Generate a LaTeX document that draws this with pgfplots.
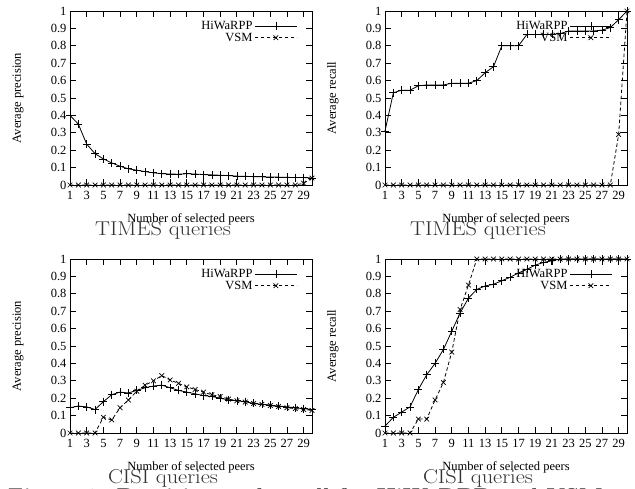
\documentclass[border=0pt]{standalone}
\usepackage{pgfplots}
\pgfplotsset{compat=1.18}
\usepackage{fontspec}
\newfontfamily\tms{Liberation Serif}

% gnuplot-like panel
\pgfplotsset{
  panel/.style={
    scale only axis, width=242pt, height=174pt,
    xmin=1, xmax=30, ymin=0, ymax=1,
    xtick={1,3,...,29},
    ytick={0,0.1,0.2,0.3,0.4,0.5,0.6,0.7,0.8,0.9,1},
    tick align=inside, major tick length=6pt,
    axis line style={line width=0.9pt}, tick style={line width=0.8pt, black},
    /pgf/number format/assume math mode=true,
    tick label style={font=\fontsize{12.5}{13}\tms},
    xticklabel style={yshift=-3pt},
    label style={font=\fontsize{12.5}{13}\tms},
    xlabel={Number of selected peers},
    xlabel style={at={(axis description cs:0.5,-0.2)}, anchor=center},
    ylabel style={at={(axis description cs:-0.215,0.5)}, anchor=center},
    clip=false,
    legend style={draw=none, fill=none, inner sep=0pt, font=\fontsize{12.5}{13}\tms,
      at={(rel axis cs:0.94,0.955)}, anchor=north east, row sep=-2pt},
    legend cell align=right, legend plot pos=right,
    legend image code/.code={\draw[mark repeat=2,mark phase=2,##1] plot coordinates {(0pt,0pt) (21pt,0pt) (42pt,0pt)};},
  },
  hw/.style={black, line width=0.8pt, mark=+, mark size=4pt, mark options={solid, line width=0.7pt}},
  vs/.style={black, line width=0.8pt, dash pattern=on 3.5pt off 2.5pt, mark=x, mark size=3.3pt, mark options={solid, line width=0.7pt}},
}

\pgfplotstableread{
x hw vs
1 0.40 0
2 0.35 0
3 0.235 0
4 0.18 0
5 0.15 0
6 0.127 0
7 0.108 0
8 0.093 0
9 0.085 0
10 0.077 0
11 0.070 0
12 0.065 0
13 0.063 0
14 0.062 0
15 0.065 0
16 0.063 0
17 0.060 0
18 0.058 0
19 0.056 0
20 0.054 0
21 0.051 0
22 0.050 0
23 0.048 0
24 0.047 0
25 0.046 0
26 0.045 0
27 0.044 0
28 0.043 0
29 0.043 0.01
30 0.040 0.04
}\timesprec

\pgfplotstableread{
x hw vs
1 0.31 0
2 0.53 0
3 0.545 0
4 0.545 0
5 0.57 0
6 0.575 0
7 0.575 0
8 0.575 0
9 0.585 0
10 0.585 0
11 0.585 0
12 0.60 0
13 0.645 0
14 0.68 0
15 0.80 0
16 0.80 0
17 0.80 0
18 0.865 0
19 0.865 0
20 0.865 0
21 0.865 0
22 0.87 0
23 0.885 0
24 0.885 0
25 0.885 0
26 0.885 0
27 0.89 0
28 0.905 0
29 0.95 0.29
30 1.0 1.0
}\timesrec

\pgfplotstableread{
x hw vs
1 0.145 0
2 0.155 0
3 0.15 0
4 0.135 0
5 0.18 0.09
6 0.22 0.075
7 0.235 0.145
8 0.23 0.19
9 0.245 0.24
10 0.26 0.275
11 0.27 0.30
12 0.275 0.33
13 0.26 0.305
14 0.245 0.285
15 0.235 0.265
16 0.225 0.25
17 0.215 0.235
18 0.21 0.22
19 0.20 0.21
20 0.19 0.195
21 0.185 0.185
22 0.18 0.178
23 0.17 0.17
24 0.165 0.165
25 0.16 0.158
26 0.155 0.152
27 0.15 0.145
28 0.145 0.14
29 0.14 0.135
30 0.135 0.13
}\cisiprec

\pgfplotstableread{
x hw vs
1 0.04 0
2 0.09 0
3 0.12 0
4 0.15 0
5 0.25 0.08
6 0.335 0.08
7 0.40 0.19
8 0.48 0.29
9 0.585 0.465
10 0.69 0.71
11 0.775 0.85
12 0.825 1.0
13 0.845 1.0
14 0.855 1.0
15 0.875 1.0
16 0.895 1.0
17 0.92 1.0
18 0.94 1.0
19 0.965 1.0
20 0.98 1.0
21 0.99 1.0
22 1.0 1.0
23 1.0 1.0
24 1.0 1.0
25 1.0 1.0
26 1.0 1.0
27 1.0 1.0
28 1.0 1.0
29 1.0 1.0
30 1.0 1.0
}\cisirec

\begin{document}
\begin{tikzpicture}
\useasboundingbox (0,0) rectangle (635pt,488pt);

\begin{axis}[panel, at={(70pt,303pt)}, anchor=south west, ylabel={Average precision}]
\addplot[hw] table[x=x,y=hw] {\timesprec};
\addplot[vs] table[x=x,y=vs] {\timesprec};
\legend{HiWaRPP,VSM}
\end{axis}

\begin{axis}[panel, at={(385pt,303pt)}, anchor=south west, ylabel={Average recall}]
\addplot[hw] table[x=x,y=hw] {\timesrec};
\addplot[vs] table[x=x,y=vs] {\timesrec};
\legend{HiWaRPP,VSM}
\end{axis}

\begin{axis}[panel, at={(70pt,55pt)}, anchor=south west, ylabel={Average precision}]
\addplot[hw] table[x=x,y=hw] {\cisiprec};
\addplot[vs] table[x=x,y=vs] {\cisiprec};
\legend{HiWaRPP,VSM}
\end{axis}

\begin{axis}[panel, at={(385pt,55pt)}, anchor=south west, ylabel={Average recall}]
\addplot[hw] table[x=x,y=hw] {\cisirec};
\addplot[vs] table[x=x,y=vs] {\cisirec};
\legend{HiWaRPP,VSM}
\end{axis}

\node[font=\fontsize{20}{22}\selectfont, text=black!80, xscale=1.12] at (163pt,258pt) {TIMES queries};
\node[font=\fontsize{20}{22}\selectfont, text=black!80, xscale=1.12] at (478pt,258pt) {TIMES queries};
\node[font=\fontsize{20}{22}\selectfont, text=black!80, xscale=1.12] at (163pt,10pt) {CISI queries};
\node[font=\fontsize{20}{22}\selectfont, text=black!80, xscale=1.12] at (478pt,10pt) {CISI queries};

\node[anchor=north west, inner sep=0pt, font=\fontsize{20}{24}\bfseries, text=black!80, xscale=1.1] at (8pt,0pt) {Figure 3: Precision and recall for HiWaRPP and VSM};
\end{tikzpicture}
\end{document}
